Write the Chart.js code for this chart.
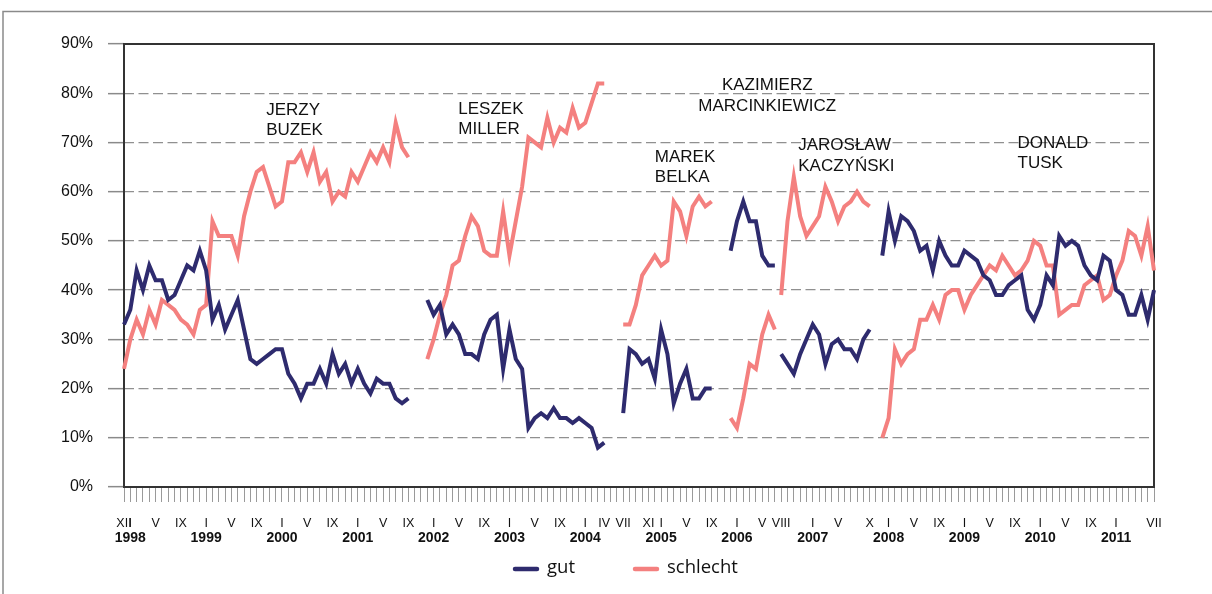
<!DOCTYPE html>
<html>
<head>
<meta charset="utf-8">
<script src="https://cdn.jsdelivr.net/npm/chart.js@4.4.1/dist/chart.umd.min.js"></script>
<style>
html,body{margin:0;padding:0;background:#fff;}
canvas{display:block;}
</style>
</head>
<body>
<canvas id="c" width="1212" height="594"></canvas>
<script>
// ---- categories: monthly, XII 1997 .. VII 2011 ----
const categories = [];
for (let y = 1997, m = 12; y < 2011 || (y === 2011 && m <= 7);) {
  categories.push(y + '-' + String(m).padStart(2, '0'));
  m++; if (m > 12) { m = 1; y++; }
}
const ROMAN = ['I','II','III','IV','V','VI','VII','VIII','IX','X','XI','XII'];

// months that carry a Roman-numeral tick label
const labeledMonths = ['1997-12','1998-01','1998-05','1998-09','1999-01','1999-05','1999-09',
  '2000-01','2000-05','2000-09','2001-01','2001-05','2001-09','2002-01','2002-05','2002-09',
  '2003-01','2003-05','2003-09','2004-01','2004-04','2004-07','2004-11','2005-01','2005-05','2005-09',
  '2006-01','2006-05','2006-08','2007-01','2007-05','2007-10','2008-01','2008-05','2008-09',
  '2009-01','2009-05','2009-09','2010-01','2010-05','2010-09','2011-01','2011-07'];
// year labels (second tick row)
const yearMonths = ['1998-01','1999-01','2000-01','2001-01','2002-01','2003-01','2004-01',
  '2005-01','2006-01','2007-01','2008-01','2009-01','2010-01','2011-01'];

// ---- series values (%), per government term ----
const startBuzek = '1997-12';
const gutBuzek = [33,36,44,40,45,42,42,38,39,42,45,44,48,44,34,37,32,35,38,32,26,25,26,27,28,28,23,21,18,21,21,24,21,27,23,25,21,24,21,19,22,21,21,18,17,18];
const schlechtBuzek = [24,30,34,31,36,33,38,37,36,34,33,31,36,37,54,51,51,51,47,55,60,64,65,61,57,58,66,66,68,64,68,62,64,58,60,59,64,62,65,68,66,69,66,74,69,67];

const startMiller = '2001-12';
const gutMiller = [38,35,37,31,33,31,27,27,26,31,34,35,24,32,26,24,12,14,15,14,16,14,14,13,14,13,12,8,9];
const schlechtMiller = [26,30,35,39,45,46,51,55,53,48,47,47,56,47,54,61,71,70,69,75,70,73,72,77,73,74,78,82,82];

const startBelka = '2004-07';
const gutBelka = [15,28,27,25,26,22,32,27,17,21,24,18,18,20,20];
const schlechtBelka = [33,33,37,43,45,47,45,46,58,56,51,57,59,57,58];

const startMarcinkiewicz = '2005-12';
const gutMarcinkiewicz = [48,54,58,54,54,47,45,45];
const schlechtMarcinkiewicz = [14,12,18,25,24,31,35,32];

const startKaczynski = '2006-08';
const gutKaczynski = [27,25,23,27,30,33,31,25,29,30,28,28,26,30,32];
const schlechtKaczynski = [39,54,63,55,51,53,55,61,58,54,57,58,60,58,57];

const startTusk = '2007-12';
const gutTusk = [47,56,50,55,54,52,48,49,44,50,47,45,45,48,47,46,43,42,39,39,41,42,43,36,34,37,43,41,51,49,50,49,45,43,42,47,46,40,39,35,35,39,34,40];
const schlechtTusk = [10,14,28,25,27,28,34,34,37,34,39,40,40,36,39,41,43,45,44,47,45,43,44,46,50,49,45,45,35,36,37,37,41,42,43,38,39,43,46,52,51,47,53,44];

// ---- government name labels ----
const govNames = [['JERZY','BUZEK'],['LESZEK','MILLER'],['MAREK','BELKA'],['KAZIMIERZ','MARCINKIEWICZ'],['JAROSŁAW','KACZYŃSKI'],['DONALD','TUSK']];
const govLabelMonthIdx = [22.5, 52.9, 84.0, 101.8, 106.7, 141.4];
const govLabelValue = [76.6, 76.8, 67.0, 81.6, 69.4, 69.9];
const govLabelAlign = ['left','left','left','center','left','left'];

const seriesNames = ['gut', 'schlecht'];
const GUT = '#2e2b6e', SCHLECHT = '#f4807f';

function points(start, values) {
  const i0 = categories.indexOf(start);
  return values.map((v, k) => ({ x: categories[i0 + k], y: v }));
}
const terms = [
  [startBuzek, gutBuzek, schlechtBuzek],
  [startMiller, gutMiller, schlechtMiller],
  [startBelka, gutBelka, schlechtBelka],
  [startMarcinkiewicz, gutMarcinkiewicz, schlechtMarcinkiewicz],
  [startKaczynski, gutKaczynski, schlechtKaczynski],
  [startTusk, gutTusk, schlechtTusk]
];
const datasets = [];
terms.forEach(t => datasets.push({ label: seriesNames[0], data: points(t[0], t[1]), borderColor: GUT, backgroundColor: GUT }));
terms.forEach(t => datasets.push({ label: seriesNames[1], data: points(t[0], t[2]), borderColor: SCHLECHT, backgroundColor: SCHLECHT }));
datasets.forEach(d => Object.assign(d, { borderWidth: 4, pointRadius: 0, pointHoverRadius: 0, tension: 0, fill: false, xAxisID: 'x', yAxisID: 'y' }));

const romanLabels = categories.map(c => labeledMonths.includes(c) ? ROMAN[parseInt(c.slice(5), 10) - 1] : '');
const yearLabels = categories.map(c => yearMonths.includes(c) ? c.slice(0, 4) : '');

const SANS = '"Liberation Sans", Arial, Helvetica, sans-serif';

const pagePlugin = {
  id: 'page',
  beforeDraw(chart) {
    const ctx = chart.ctx;
    ctx.save();
    ctx.fillStyle = '#fff';
    ctx.fillRect(0, 0, chart.width, chart.height);
    ctx.strokeStyle = '#8a8a8a';
    ctx.lineWidth = 1.5;
    ctx.beginPath();
    ctx.moveTo(3, chart.height);
    ctx.lineTo(3, 11.5);
    ctx.lineTo(chart.width, 11.5);
    ctx.stroke();
    ctx.restore();
  },
  beforeDatasetsDraw(chart) {
    const a = chart.chartArea, ctx = chart.ctx;
    ctx.save();
    ctx.strokeStyle = '#333';
    ctx.lineWidth = 2;
    ctx.strokeRect(a.left, a.top, a.right - a.left, a.bottom - a.top);
    ctx.restore();
  },
  afterDatasetsDraw(chart) {
    const ctx = chart.ctx, xs = chart.scales.x, ys = chart.scales.y;
    ctx.save();
    ctx.fillStyle = '#111';
    ctx.font = '17px ' + SANS;
    ctx.textBaseline = 'middle';
    govNames.forEach((lines, i) => {
      const px = xs.getPixelForValue(govLabelMonthIdx[i]);
      const py = ys.getPixelForValue(govLabelValue[i]);
      ctx.textAlign = govLabelAlign[i];
      lines.forEach((t, k) => ctx.fillText(t, px, py + k * 20.5));
    });
    ctx.restore();
  },
  afterDraw(chart) {
    const ctx = chart.ctx, a = chart.chartArea;
    ctx.save();
    ctx.font = '18.5px "Open Sans", "Noto Sans", sans-serif';
    ctx.textBaseline = 'middle';
    ctx.textAlign = 'left';
    let x = (a.left + a.right) / 2 - 126;
    const y = a.bottom + 82;
    [[seriesNames[0], GUT], [seriesNames[1], SCHLECHT]].forEach(([name, col]) => {
      ctx.strokeStyle = col;
      ctx.lineWidth = 4.5;
      ctx.lineCap = 'round';
      ctx.beginPath();
      ctx.moveTo(x + 2, y);
      ctx.lineTo(x + 24, y);
      ctx.stroke();
      ctx.fillStyle = '#111';
      ctx.fillText(name, x + 34, y - 1);
      x += 34 + ctx.measureText(name).width + 58;
    });
    ctx.restore();
  }
};

new Chart(document.getElementById('c'), {
  type: 'line',
  data: { labels: categories, datasets },
  plugins: [pagePlugin],
  options: {
    responsive: false,
    animation: false,
    devicePixelRatio: 1,
    layout: { padding: { left: 0, right: 58, top: 44, bottom: 47 } },
    plugins: { legend: { display: false }, tooltip: { enabled: false } },
    scales: {
      x: {
        type: 'category', position: 'bottom', weight: 0, offset: false,
        grid: { display: true, drawOnChartArea: false, drawTicks: true, tickLength: 15, tickColor: '#9a9a9a', tickWidth: 1, color: '#9a9a9a' },
        border: { display: false },
        ticks: { autoSkip: false, maxRotation: 0, minRotation: 0, padding: 14, color: '#111',
                 font: { family: SANS, size: 12.5 }, callback: (v, i) => romanLabels[i] },
        afterFit: s => { s.height = 43; }
      },
      years: {
        type: 'category', axis: 'x', position: 'bottom', weight: 1, offset: false,
        grid: { display: false, drawTicks: false },
        border: { display: false },
        ticks: { autoSkip: false, maxRotation: 0, minRotation: 0, padding: 0, color: '#111',
                 font: { family: SANS, size: 14, weight: 'bold' }, callback: (v, i) => yearLabels[i] },
        afterFit: s => { s.height = 17; }
      },
      y: {
        min: 0, max: 90,
        ticks: { stepSize: 10, padding: 15, color: '#111', font: { family: SANS, size: 16 }, callback: v => v + '%' },
        grid: {
          color: c => (c.tick && (c.tick.value === 0 || c.tick.value === 90)) ? 'rgba(0,0,0,0)' : '#909090',
          lineWidth: 1.3, drawTicks: true, tickLength: 16, tickColor: '#8a8a8a', tickWidth: 1.5
        },
        border: { display: false, dash: [10, 4.5] },
        afterFit: s => { s.width = 124; }
      }
    }
  }
});
</script>
</body>
</html>
